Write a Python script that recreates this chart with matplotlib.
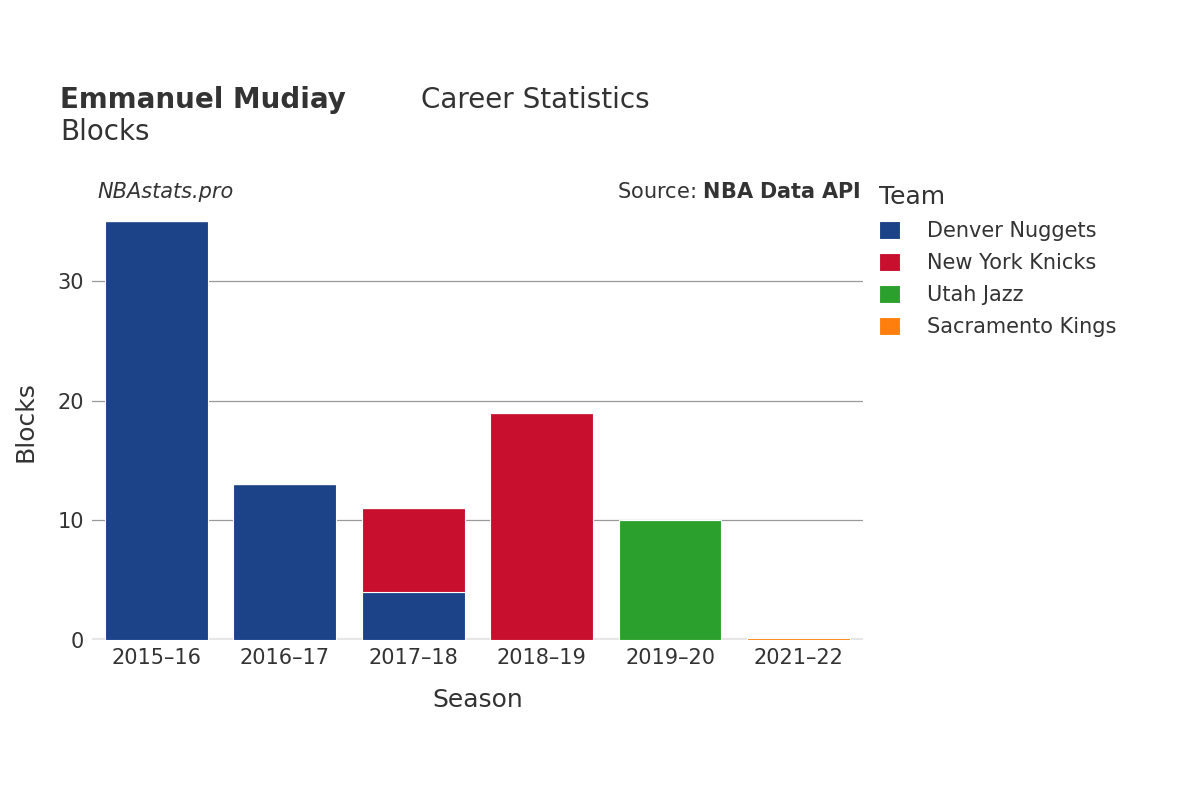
import matplotlib
matplotlib.use("Agg")
import matplotlib.pyplot as plt
import numpy as np

seasons = ["2015–16", "2016–17", "2017–18", "2018–19", "2019–20", "2021–22"]
teams = ["Denver Nuggets", "New York Knicks", "Utah Jazz", "Sacramento Kings"]
colors = ["#1c4288", "#c8102e", "#2ca02c", "#ff7f0e"]
denver = [35, 13, 4, 0, 0, 0]
knicks = [0, 0, 7, 19, 0, 0]
utah = [0, 0, 0, 0, 10, 0]
kings = [0, 0, 0, 0, 0, 0.15]
series = [denver, knicks, utah, kings]

fig = plt.figure(figsize=(12, 8), dpi=100)
ax = fig.add_axes([0.0767, 0.2, 0.6423, 0.546])
x = np.arange(len(seasons))
bottom = np.zeros(len(seasons))
for name, vals, c in zip(teams, series, colors):
    v = np.array(vals, dtype=float)
    ax.bar(x, v, 0.8, bottom=bottom, color=c, label=name, edgecolor="white", linewidth=0.8, zorder=3)
    bottom += v

ax.set_xlim(-0.5, len(seasons) - 0.5)
ax.set_ylim(0, 36.5)
ax.set_yticks([0, 10, 20, 30])
ax.grid(axis="y", color="#999999", linewidth=0.9, zorder=0)
ax.axhline(0, color="#e6e6e6", linewidth=3, zorder=2)
for s in ax.spines.values():
    s.set_visible(False)
ax.tick_params(length=0, labelsize=15, colors="#333333", pad=6)
ax.set_xticks(x)
ax.set_xticklabels(seasons)
ax.set_xlabel("Season", fontsize=18, color="#333333", labelpad=14)
ax.set_ylabel("Blocks", fontsize=18, color="#333333", labelpad=14)

fig.text(0.05, 0.875, "Emmanuel Mudiay", fontsize=20, fontweight="bold", color="#333333", va="center")
fig.text(0.351, 0.875, "Career Statistics", fontsize=20, color="#333333", va="center")
fig.text(0.05, 0.835, "Blocks", fontsize=20, color="#333333", va="center")
fig.text(0.081, 0.76, "NBAstats.pro", fontsize=15, style="italic", color="#333333", va="center")
fig.text(0.717, 0.76, "Source: $\\bf{NBA\\ Data\\ API}$", fontsize=15, color="#333333", va="center", ha="right")

leg = ax.legend(loc="upper left", bbox_to_anchor=(1.01, 1.06), frameon=False, fontsize=15,
                title="Team", title_fontsize=18, handlelength=1.0, handleheight=1.0,
                labelspacing=0.55, handletextpad=1.3, borderaxespad=0)
leg._legend_box.align = "left"
for t in leg.get_texts():
    t.set_color("#333333")
leg.get_title().set_color("#333333")

fig.savefig("out.png", dpi=100)
